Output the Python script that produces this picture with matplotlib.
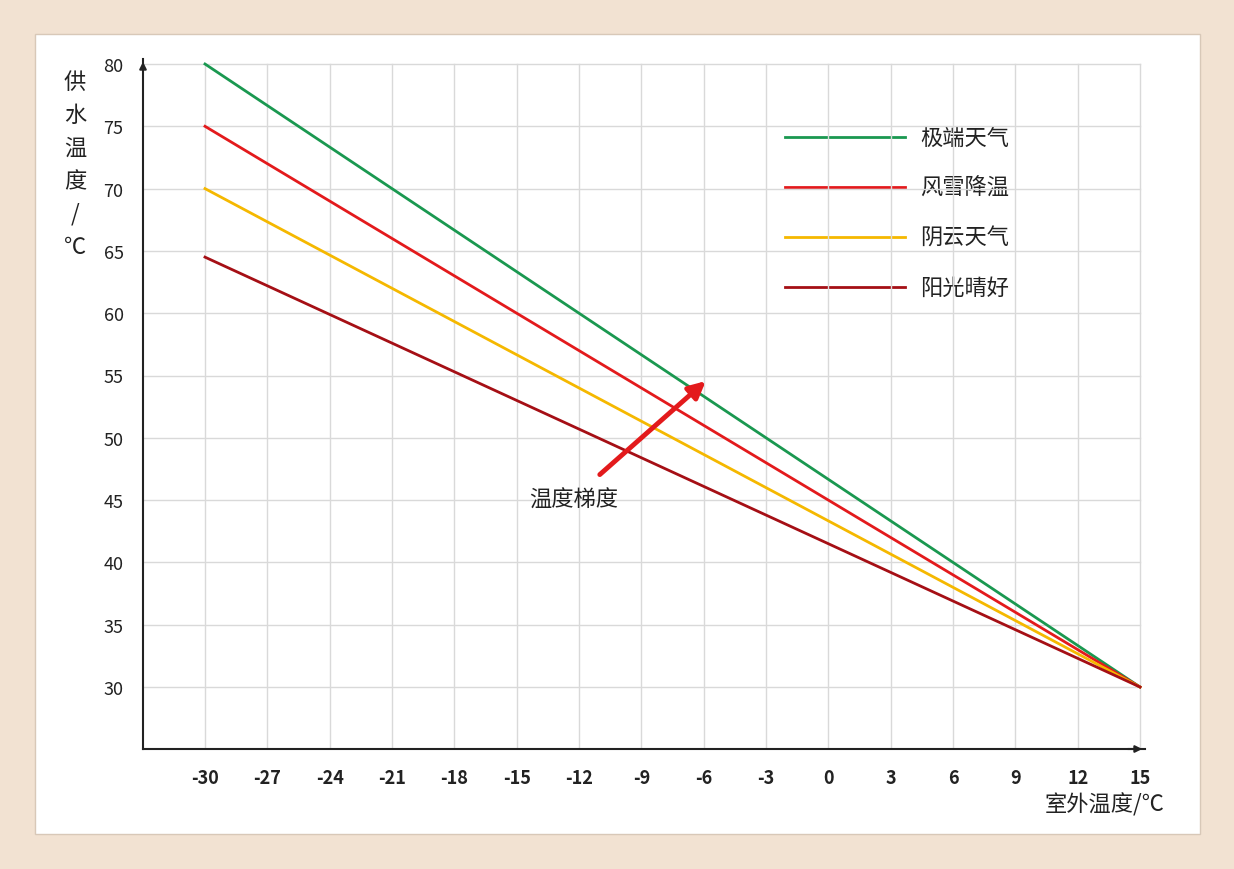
import matplotlib
matplotlib.use("Agg")
import matplotlib.pyplot as plt
from matplotlib.patches import Rectangle

plt.rcParams['font.family'] = ['Noto Sans CJK SC', 'DejaVu Sans']

x_ticks = [-30, -27, -24, -21, -18, -15, -12, -9, -6, -3, 0, 3, 6, 9, 12, 15]
y_ticks = [30, 35, 40, 45, 50, 55, 60, 65, 70, 75, 80]
series_names = ['极端天气', '风雪降温', '阴云天气', '阳光晴好']
series_colors = ['#1a9850', '#e31a1c', '#f5b800', '#a50f15']
x_ends = [-30, 15]
green_vals = [80, 30]
red_vals = [75, 30]
yellow_vals = [70, 30]
darkred_vals = [64.5, 30]
series_vals = [green_vals, red_vals, yellow_vals, darkred_vals]

W, H = 1234, 870
fig = plt.figure(figsize=(W/100, H/100), dpi=100)
fig.patch.set_facecolor('#f2e2d2')
fig.patches.append(Rectangle((35/W, 1-835/H), 1165/W, 800/H, transform=fig.transFigure,
                             facecolor='white', edgecolor='#d8c8b8', lw=1, zorder=-5))

x0, x1 = 143, 1145
y0, y1 = 750, 60
ax = fig.add_axes([x0/W, 1-y0/H, (x1-x0)/W, (y0-y1)/H])
ax.set_zorder(5)
ax.set_facecolor('none')
pxx = (1140-205)/45.0
pxy = (688-65)/50.0
ax.set_xlim(-30-(205-x0)/pxx, 15+(x1-1140)/pxx)
ax.set_ylim(30-(y0-688)/pxy, 30+(688-y1)/pxy)

for xv in x_ticks:
    ax.plot([xv, xv], [ax.get_ylim()[0], 80], color='#d9d9d9', lw=1, zorder=0)
for yv in y_ticks:
    ax.plot([ax.get_xlim()[0], 15], [yv, yv], color='#d9d9d9', lw=1, zorder=0)

for name, c, v in zip(series_names, series_colors, series_vals):
    ax.plot(x_ends, v, color=c, lw=2, zorder=3)

for s in ['top', 'right']:
    ax.spines[s].set_visible(False)
for s in ['left', 'bottom']:
    ax.spines[s].set_color('#222222'); ax.spines[s].set_linewidth(1.5)
ax.annotate('', xy=(1.0, 0), xycoords='axes fraction', xytext=(0.98, 0),
            arrowprops=dict(arrowstyle='-|>', color='#222222', lw=1.5))
ax.annotate('', xy=(0, 1.0), xycoords='axes fraction', xytext=(0, 0.98),
            arrowprops=dict(arrowstyle='-|>', color='#222222', lw=1.5))

ax.set_xticks(x_ticks)
ax.set_xticklabels([str(t) for t in x_ticks], fontsize=13, fontweight='bold', color='#222222')
ax.set_yticks(y_ticks)
ax.set_yticklabels([str(t) for t in y_ticks], fontsize=13, color='#222222')
ax.tick_params(length=0, pad=14)

# legend
for i, (name, c) in enumerate(zip(series_names, series_colors)):
    yp = 1-(138+50*i)/H
    fig.add_artist(plt.Line2D([785/W, 905/W], [yp, yp], color=c, lw=2, transform=fig.transFigure))
    fig.text(920/W, yp, name, fontsize=16, va='center', ha='left', color='#222222')

ax.annotate('', xy=(-5.8, 54.7), xytext=(-11.1, 46.9),
            arrowprops=dict(arrowstyle='-|>,head_width=0.5,head_length=1.0', color='#e31a1c', lw=3.5))
ax.text(-14.4, 45.1, '温度梯度', fontsize=16, ha='left', va='center', color='#222222')

fig.text(75/W, 1-165/H, '供\n水\n温\n度\n/\n℃', fontsize=16, ha='center', va='center',
         linespacing=1.55, color='#222222')
fig.text(1165/W, 1-805/H, '室外温度/℃', fontsize=16, ha='right', va='center', color='#222222')

fig.savefig('out.png', dpi=100, facecolor=fig.get_facecolor())
